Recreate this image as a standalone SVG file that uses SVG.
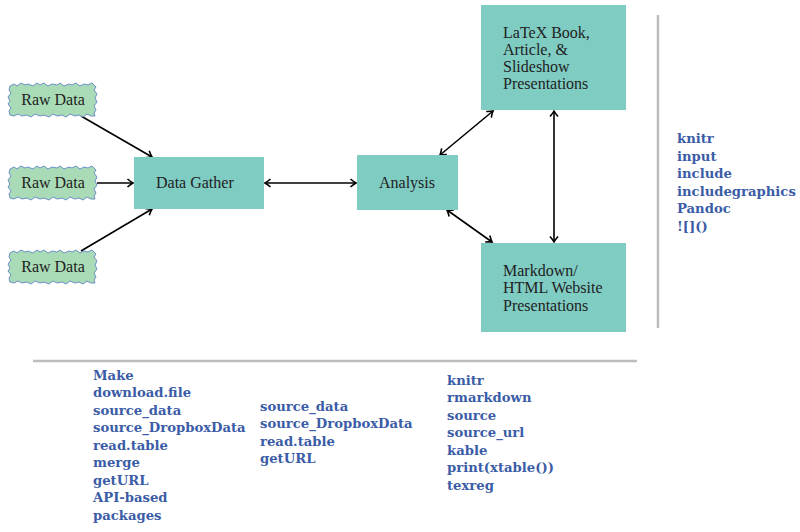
<svg xmlns="http://www.w3.org/2000/svg" width="800" height="532" viewBox="0 0 800 532">
<style>
.box{fill:#7fccc3}
.cloud{fill:#a9dcb6;stroke:#6b8fc9;stroke-width:1;stroke-linejoin:round}
.nt{font-family:"Liberation Serif","DejaVu Serif",serif;font-size:16px;fill:#222}
.lb{font-family:"DejaVu Serif","Liberation Serif",serif;font-weight:bold;font-size:13.2px;fill:#3b5ca6}
.ln{stroke:#000;stroke-width:1.6;fill:none}
.sep{stroke:#bdbdbd;stroke-width:2.5;fill:none}
</style>
<defs>
<marker id="ah" viewBox="-7 -5 9 10" markerWidth="9" markerHeight="10" refX="0" refY="0" orient="auto-start-reverse" markerUnits="userSpaceOnUse">
<path d="M-5.5,-4 Q-2,-1 0,0 Q-2,1 -5.5,4" fill="none" stroke="#000" stroke-width="1.6"/>
</marker>
<path id="cl" class="cloud" d="M2,3 L6,1 L9,3 L13,0 L17,2 L20,1 L25,3 L29,0 L32,2 L36,0 L40,3 L44,1 L49,2 L52,0 L56,3 L61,1 L64,2 L68,0 L72,3 L76,1 L80,2 L84,0 L88,4 L86,7 L89,11 L87,15 L89,19 L86,23 L88,27 L86,30 L87,33 L83,33 L79,31 L75,34 L71,32 L67,33 L62,31 L58,34 L54,32 L49,33 L45,31 L41,34 L36,32 L32,33 L27,31 L23,34 L19,32 L14,33 L10,31 L6,33 L2,32 L1,28 L3,25 L0,21 L2,18 L0,14 L3,10 L1,7 Z"/>
</defs>
<rect width="800" height="532" fill="#fff"/>

<g id="connectors">
<line class="ln" x1="81" y1="116" x2="152" y2="157" marker-end="url(#ah)"/>
<line class="ln" x1="97" y1="183" x2="133" y2="183" stroke-width="2" marker-end="url(#ah)"/>
<line class="ln" x1="81" y1="251" x2="152" y2="209" marker-end="url(#ah)"/>
<line class="ln" x1="265" y1="183" x2="356" y2="183" marker-start="url(#ah)" marker-end="url(#ah)"/>
<line class="ln" x1="440" y1="155" x2="493" y2="111" marker-start="url(#ah)" marker-end="url(#ah)"/>
<line class="ln" x1="447" y1="210" x2="492" y2="242" marker-start="url(#ah)" marker-end="url(#ah)"/>
<line class="ln" x1="554" y1="111" x2="554" y2="242" stroke-width="2" marker-start="url(#ah)" marker-end="url(#ah)"/>
</g>

<g id="raw1"><use href="#cl" x="8" y="83"/><text class="nt" x="53" y="105" text-anchor="middle">Raw Data</text></g>
<g id="raw2"><use href="#cl" x="8" y="166"/><text class="nt" x="53" y="188" text-anchor="middle">Raw Data</text></g>
<g id="raw3"><use href="#cl" x="8" y="250"/><text class="nt" x="53" y="272" text-anchor="middle">Raw Data</text></g>

<g id="gather"><rect class="box" x="134" y="157" width="130" height="52"/><text class="nt" x="156" y="188">Data Gather</text></g>
<g id="analysis"><rect class="box" x="357" y="155" width="101" height="55"/><text class="nt" x="379" y="188">Analysis</text></g>
<g id="latex"><rect class="box" x="481" y="5" width="145" height="105"/>
<text class="nt" x="503" y="38">LaTeX Book,</text>
<text class="nt" x="503" y="55">Article, &amp;</text>
<text class="nt" x="503" y="72">Slideshow</text>
<text class="nt" x="503" y="89">Presentations</text></g>
<g id="markdown"><rect class="box" x="481" y="243" width="145" height="89"/>
<text class="nt" x="503" y="276">Markdown/</text>
<text class="nt" x="503" y="293">HTML Website</text>
<text class="nt" x="503" y="311">Presentations</text></g>

<g id="separators">
<line class="sep" x1="658" y1="15" x2="658" y2="328"/>
<line class="sep" x1="33" y1="361" x2="637" y2="361"/>
</g>

<g id="right-labels">
<text class="lb" x="677" y="143">knitr</text>
<text class="lb" x="677" y="161">input</text>
<text class="lb" x="677" y="178">include</text>
<text class="lb" x="677" y="196">includegraphics</text>
<text class="lb" x="677" y="213">Pandoc</text>
<text class="lb" x="677" y="231">![]()</text>
</g>
<g id="gather-labels">
<text class="lb" x="93" y="380">Make</text>
<text class="lb" x="93" y="397">download.file</text>
<text class="lb" x="93" y="415">source_data</text>
<text class="lb" x="93" y="432">source_DropboxData</text>
<text class="lb" x="93" y="450">read.table</text>
<text class="lb" x="93" y="467">merge</text>
<text class="lb" x="93" y="485">getURL</text>
<text class="lb" x="93" y="502">API-based</text>
<text class="lb" x="93" y="520">packages</text>
</g>
<g id="analysis-labels">
<text class="lb" x="260" y="411">source_data</text>
<text class="lb" x="260" y="428">source_DropboxData</text>
<text class="lb" x="260" y="446">read.table</text>
<text class="lb" x="260" y="463">getURL</text>
</g>
<g id="present-labels">
<text class="lb" x="447" y="385">knitr</text>
<text class="lb" x="447" y="402">rmarkdown</text>
<text class="lb" x="447" y="420">source</text>
<text class="lb" x="447" y="437">source_url</text>
<text class="lb" x="447" y="455">kable</text>
<text class="lb" x="447" y="472">print(xtable())</text>
<text class="lb" x="447" y="490">texreg</text>
</g>
</svg>
